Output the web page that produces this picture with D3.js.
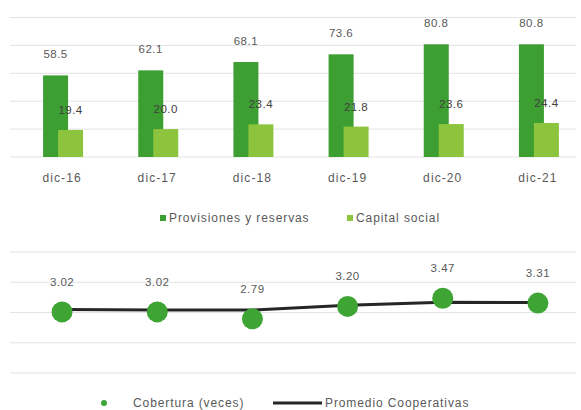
<!DOCTYPE html>
<html><head><meta charset="utf-8">
<script src="https://cdn.jsdelivr.net/npm/d3@7"></script>
<style>html,body{margin:0;padding:0;background:#fff;}svg{display:block;}</style>
</head><body>
<svg id="c" width="581" height="410"></svg>
<script>
const categories = ["dic-16","dic-17","dic-18","dic-19","dic-20","dic-21"];
const provisiones = [58.5, 62.1, 68.1, 73.6, 80.8, 80.8];
const capital = [19.4, 20.0, 23.4, 21.8, 23.6, 24.4];
const cobertura = [3.02, 3.02, 2.79, 3.20, 3.47, 3.31];
const promedio = [3.10, 3.08, 3.08, 3.24, 3.34, 3.33];
const barTicks = [0, 20, 40, 60, 80, 100];
const lineTicks = [1, 2, 3, 4, 5];
const seriesNames = ["Provisiones y reservas", "Capital social", "Cobertura (veces)", "Promedio Cooperativas"];

const darkG = "#3d9e32", lightG = "#8cc43e", dotG = "#3ea434", txt = "#595959", grid = "#e3e3e3";
const font = "Liberation Sans, Arial, sans-serif";
const svg = d3.select("#c");

const x = d3.scaleBand().domain(categories).range([14.5, 585.5]);
const cx = d => x(d) + x.bandwidth()/2;

// ---- Top bar chart
const y1 = d3.scaleLinear().domain([0, 100]).range([157, 17.5]);
const g1 = svg.append("g");
g1.selectAll("line.g").data(barTicks).join("line")
  .attr("x1", 10).attr("x2", 576)
  .attr("y1", d => y1(d)).attr("y2", d => y1(d))
  .attr("stroke", grid).attr("stroke-width", 1);

const bw = 25;
g1.selectAll("rect.p").data(provisiones).join("rect")
  .attr("x", (d,i) => cx(categories[i]) - 19).attr("width", bw)
  .attr("y", d => y1(d)).attr("height", d => y1(0) - y1(d)).attr("fill", darkG);
g1.selectAll("rect.c").data(capital).join("rect")
  .attr("x", (d,i) => cx(categories[i]) - 4).attr("width", bw)
  .attr("y", d => y1(d)).attr("height", d => y1(0) - y1(d)).attr("fill", lightG);

g1.selectAll("text.pl").data(provisiones).join("text")
  .attr("x", (d,i) => cx(categories[i]) - 19 + bw/2).attr("y", d => y1(d) - 17)
  .attr("text-anchor","middle").attr("font-size", 11.5).attr("letter-spacing", 0.5)
  .attr("font-family", font).attr("fill", txt)
  .text(d => d.toFixed(1));
g1.selectAll("text.cl").data(capital).join("text")
  .attr("x", (d,i) => cx(categories[i]) - 4 + bw/2).attr("y", d => y1(d) - 16)
  .attr("text-anchor","middle").attr("font-size", 11.5).attr("letter-spacing", 0.5)
  .attr("font-family", font).attr("fill", "#404040")
  .text(d => d.toFixed(1));

const ax = g1.append("g").attr("transform", "translate(0,157)")
  .call(d3.axisBottom(x).tickSize(0).tickPadding(16));
ax.select(".domain").remove();
ax.selectAll("text").attr("font-size", 12).attr("letter-spacing", 1.1)
  .attr("font-family", font).attr("fill", txt);

// top legend
const lg1 = svg.append("g").attr("font-family", font).attr("font-size", 12)
  .attr("letter-spacing", 0.9).attr("fill", txt);
lg1.append("rect").attr("x", 160).attr("y", 215).attr("width", 6).attr("height", 6).attr("fill", darkG);
lg1.append("text").attr("x", 169).attr("y", 222).text(seriesNames[0]);
lg1.append("rect").attr("x", 347).attr("y", 215).attr("width", 6).attr("height", 6).attr("fill", lightG);
lg1.append("text").attr("x", 356).attr("y", 222).text(seriesNames[1]);

// ---- Bottom line chart
const y2 = d3.scaleLinear().domain([1, 5]).range([373, 252]);
const g2 = svg.append("g");
g2.selectAll("line.g").data(lineTicks).join("line")
  .attr("x1", 10).attr("x2", 576)
  .attr("y1", d => y2(d)).attr("y2", d => y2(d))
  .attr("stroke", grid).attr("stroke-width", 1);

const line = d3.line().x((d,i) => cx(categories[i])).y(d => y2(d));
g2.append("path").datum(promedio).attr("d", line)
  .attr("fill", "none").attr("stroke", "#262626").attr("stroke-width", 3);

g2.selectAll("circle").data(cobertura).join("circle")
  .attr("cx", (d,i) => cx(categories[i])).attr("cy", d => y2(d)).attr("r", 10.5)
  .attr("fill", dotG);
g2.selectAll("text.v").data(cobertura).join("text")
  .attr("x", (d,i) => cx(categories[i])).attr("y", d => y2(d) - 26)
  .attr("text-anchor","middle").attr("font-size", 11.5).attr("letter-spacing", 0.5)
  .attr("font-family", font).attr("fill", txt)
  .text(d => d.toFixed(2));

// bottom legend
const lg2 = svg.append("g").attr("font-family", font).attr("font-size", 12)
  .attr("letter-spacing", 0.9).attr("fill", txt);
lg2.append("circle").attr("cx", 104).attr("cy", 403).attr("r", 3).attr("fill", dotG);
lg2.append("text").attr("x", 133).attr("y", 407).text(seriesNames[2]);
lg2.append("line").attr("x1", 273).attr("x2", 322).attr("y1", 403).attr("y2", 403)
  .attr("stroke", "#262626").attr("stroke-width", 3);
lg2.append("text").attr("x", 325).attr("y", 407).text(seriesNames[3]);
</script>
</body></html>
